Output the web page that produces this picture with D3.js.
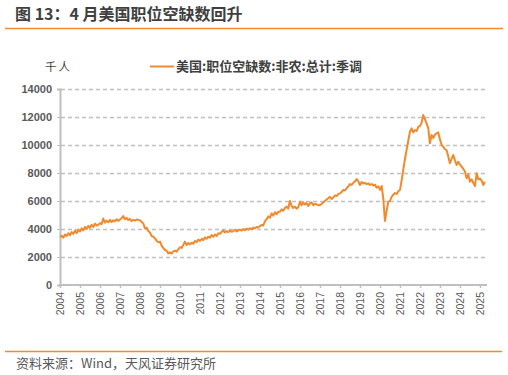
<!DOCTYPE html>
<html>
<head>
<meta charset="utf-8">
<script src="https://cdn.jsdelivr.net/npm/d3@7"></script>
<style>
  body { margin: 0; background: #fff; }
  svg { display: block; font-family: "Liberation Sans", Arial, "Noto Sans CJK SC", sans-serif; }
</style>
</head>
<body>
<div id="chart"></div>
<script>
// monthly job openings (thousands, SA), Jan 2004 .. Apr 2025
const startYear = 2004;
const openings = [
  3420, 3520, 3380, 3600, 3500, 3700, 3560, 3780, 3650, 3880, 3700, 3950, // 2004
  3820, 4050, 3900, 4150, 4000, 4220, 4080, 4300, 4150, 4380, 4250, 4300, // 2005
  4420, 4350, 4750, 4450, 4600, 4480, 4650, 4500, 4620, 4550, 4700, 4580, // 2006
  4680, 4780, 4930, 4700, 4800, 4640, 4720, 4570, 4650, 4600, 4680, 4640, // 2007
  4620, 4500, 4400, 4050, 4100, 3850, 3750, 3500, 3450, 3330, 3150, 3050, // 2008
  3100, 2800, 2650, 2500, 2450, 2260, 2330, 2250, 2400, 2450, 2380, 2550, // 2009
  2700, 2650, 2850, 3100, 2850, 3000, 2900, 3020, 2950, 3150, 3050, 3250, // 2010
  3150, 3300, 3200, 3400, 3300, 3450, 3380, 3570, 3450, 3600, 3500, 3700, // 2011
  3650, 3800, 3900, 3750, 3850, 3780, 3900, 3800, 3850, 3950, 3820, 3900, // 2012
  3950, 3880, 4000, 3920, 4020, 3950, 4050, 3980, 4100, 4050, 4150, 4100, // 2013
  4210, 4300, 4250, 4550, 4700, 4900, 4800, 5120, 4950, 5200, 5050, 5240, // 2014
  5240, 5400, 5300, 5500, 5600, 5450, 6000, 5650, 5500, 5600, 5450, 5550, // 2015
  5950, 5700, 5900, 5750, 5850, 5650, 5830, 5900, 5700, 5800, 5750, 5700, // 2016
  5710, 5800, 5900, 6000, 6100, 6200, 6300, 6150, 6250, 6400, 6350, 6500, // 2017
  6550, 6650, 6800, 6750, 6900, 7050, 7210, 7150, 7300, 7400, 7570, 7400, // 2018
  7140, 7350, 7250, 7300, 7200, 7260, 7150, 7210, 7100, 7180, 6950, 7050, // 2019
  6790, 7070, 6200, 4570, 5300, 5950, 6000, 6300, 6450, 6570, 6500, 6700, // 2020
  6790, 7500, 8200, 9000, 9640, 10300, 10950, 11190, 10900, 11070, 11000, 11300, // 2021
  11360, 11600, 12140, 11850, 11550, 11200, 10120, 10710, 10500, 10750, 10830, 10900, // 2022
  10400, 10000, 9880, 9700, 9640, 9200, 8700, 9000, 9290, 8900, 8570, 8800, // 2023
  8600, 8450, 8300, 8100, 7620, 7900, 7380, 7550, 7300, 7070, 7980, 7550, // 2024
  7600, 7450, 7140, 7380 // 2025
];
const yTicks = [0, 2000, 4000, 6000, 8000, 10000, 12000, 14000];
const xYears = d3.range(2004, 2026);

const titleText = "图 13：4 月美国职位空缺数回升";
const seriesName = "美国:职位空缺数:非农:总计:季调";
const unitText = "千人";
const sourceText = "资料来源：Wind，天风证券研究所";

const W = 508, H = 375;
const orange = "#F08A2C", grey = "#BFBFBF", textGrey = "#595959";
const cjk = '"Noto Sans CJK SC", "Liberation Sans", sans-serif';

const data = openings.map((v, i) => ({ date: new Date(startYear, i, 1), value: v }));

const svg = d3.select("#chart").append("svg")
  .attr("width", W).attr("height", H);

// header
svg.append("text")
  .attr("x", 15).attr("y", 20)
  .attr("font-family", cjk)
  .attr("font-size", 16).attr("font-weight", "bold")
  .attr("fill", "#3F3F3F")
  .text(titleText);
svg.append("line")
  .attr("x1", 5).attr("x2", 503).attr("y1", 28.5).attr("y2", 28.5)
  .attr("stroke", orange).attr("stroke-width", 1.5);

// scales
const x = d3.scaleTime()
  .domain([new Date(2004, 0, 1), new Date(2025, 0, 1)])
  .range([60, 480]);
const y = d3.scaleLinear().domain([0, 14000]).range([285, 89]);
const xEnd = 487;

// grid
svg.append("g").selectAll("line")
  .data(yTicks.filter(d => d > 0))
  .enter().append("line")
  .attr("x1", 61).attr("x2", xEnd)
  .attr("y1", d => Math.round(y(d)) + 0.5).attr("y2", d => Math.round(y(d)) + 0.5)
  .attr("stroke", grey).attr("stroke-width", 1.3)
  .attr("stroke-dasharray", "4,3");

// y axis
const yAxis = svg.append("g")
  .attr("transform", "translate(60,0)")
  .call(d3.axisLeft(y).tickValues(yTicks).tickFormat(d3.format("d")).tickSize(3).tickPadding(5));
yAxis.select(".domain").attr("stroke", grey).attr("stroke-width", 2);
yAxis.selectAll(".tick line").attr("stroke", grey);
yAxis.selectAll("text")
  .attr("font-size", 11).attr("font-weight", "bold")
  .attr("fill", textGrey)
  .attr("font-family", '"Liberation Sans", Arial, sans-serif');

// x axis
const xAxis = svg.append("g")
  .attr("transform", "translate(0,285)")
  .call(d3.axisBottom(x)
    .tickValues(xYears.map(yr => new Date(yr, 0, 1)))
    .tickFormat(d3.timeFormat("%Y"))
    .tickSize(3).tickSizeOuter(0));
xAxis.select(".domain").attr("d", `M60,0H${xEnd}`)
  .attr("stroke", grey).attr("stroke-width", 2);
xAxis.selectAll(".tick line").attr("stroke", grey).attr("stroke-width", 1.5);
xAxis.selectAll("text")
  .attr("transform", "rotate(-90)")
  .attr("text-anchor", "end")
  .attr("x", -7).attr("y", 0).attr("dy", "0.35em")
  .attr("font-size", 10.5)
  .attr("fill", textGrey)
  .attr("font-family", '"Liberation Sans", Arial, sans-serif');

// series
const line = d3.line()
  .x(d => x(d.date))
  .y(d => y(d.value));
svg.append("path")
  .datum(data)
  .attr("fill", "none")
  .attr("stroke", orange)
  .attr("stroke-width", 2)
  .attr("stroke-linejoin", "round")
  .attr("d", line);

// unit + legend
svg.append("text")
  .attr("x", 45).attr("y", 71)
  .attr("font-family", cjk).attr("font-size", 11.5)
  .attr("letter-spacing", 2)
  .attr("fill", "#404040")
  .text(unitText);
svg.append("line")
  .attr("x1", 150).attr("x2", 174).attr("y1", 66.5).attr("y2", 66.5)
  .attr("stroke", orange).attr("stroke-width", 2);
svg.append("text")
  .attr("x", 176).attr("y", 71)
  .attr("font-family", cjk).attr("font-size", 13).attr("font-weight", "bold")
  .attr("fill", "#404040")
  .text(seriesName);

// footer
svg.append("line")
  .attr("x1", 5).attr("x2", 502).attr("y1", 351.5).attr("y2", 351.5)
  .attr("stroke", orange).attr("stroke-width", 1.5);
svg.append("text")
  .attr("x", 16).attr("y", 368)
  .attr("font-family", cjk).attr("font-size", 13)
  .attr("fill", textGrey)
  .text(sourceText);
</script>
</body>
</html>
